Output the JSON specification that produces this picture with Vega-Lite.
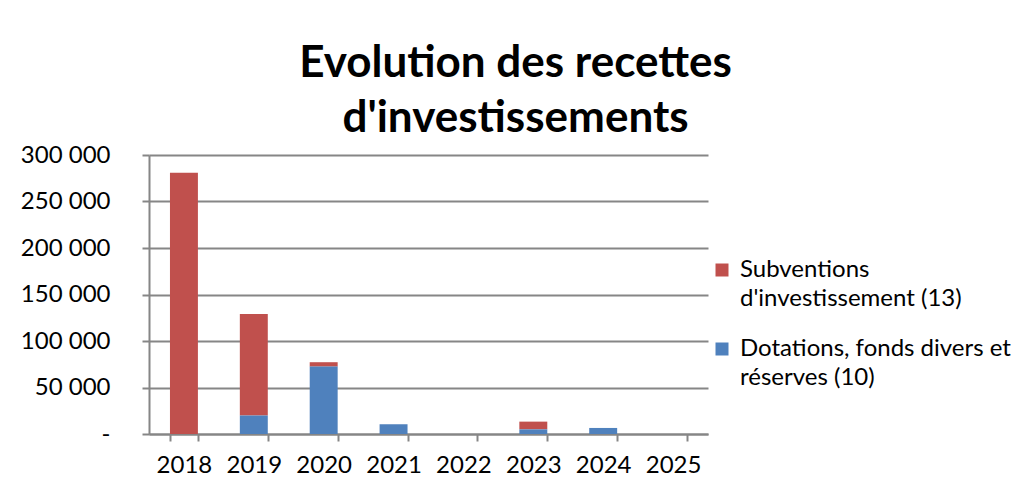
{
  "$schema": "https://vega.github.io/schema/vega-lite/v6.json",
  "autosize": "none",
  "width": 559,
  "height": 279,
  "padding": {"left": 149, "top": 155, "right": 308, "bottom": 64},
  "background": "white",
  "config": {
    "font": "Lato",
    "view": {"stroke": null},
    "style": {"guide-label": {"lineHeight": 29}},
    "locale": {"number": {"decimal": ",", "thousands": " ", "grouping": [3], "currency": ["", " €"]}}
  },
  "title": {
    "text": ["Evolution des recettes", "d'investissements"],
    "font": "Lato",
    "fontSize": 44,
    "fontWeight": "bold",
    "color": "#000000",
    "anchor": "middle",
    "dx": 87,
    "offset": 2,
    "lineHeight": 55
  },
  "data": {
    "values": [
      {"annee": "2018", "serie": "Subventions d'investissement (13)", "montant": 281000},
      {"annee": "2018", "serie": "Dotations, fonds divers et réserves (10)", "montant": 0},
      {"annee": "2019", "serie": "Subventions d'investissement (13)", "montant": 109000},
      {"annee": "2019", "serie": "Dotations, fonds divers et réserves (10)", "montant": 20000},
      {"annee": "2020", "serie": "Subventions d'investissement (13)", "montant": 4700},
      {"annee": "2020", "serie": "Dotations, fonds divers et réserves (10)", "montant": 72500},
      {"annee": "2021", "serie": "Subventions d'investissement (13)", "montant": 0},
      {"annee": "2021", "serie": "Dotations, fonds divers et réserves (10)", "montant": 10400},
      {"annee": "2022", "serie": "Subventions d'investissement (13)", "montant": 0},
      {"annee": "2022", "serie": "Dotations, fonds divers et réserves (10)", "montant": 0},
      {"annee": "2023", "serie": "Subventions d'investissement (13)", "montant": 8300},
      {"annee": "2023", "serie": "Dotations, fonds divers et réserves (10)", "montant": 5000},
      {"annee": "2024", "serie": "Subventions d'investissement (13)", "montant": 0},
      {"annee": "2024", "serie": "Dotations, fonds divers et réserves (10)", "montant": 6500},
      {"annee": "2025", "serie": "Subventions d'investissement (13)", "montant": 0},
      {"annee": "2025", "serie": "Dotations, fonds divers et réserves (10)", "montant": 0}
    ]
  },
  "mark": {"type": "bar"},
  "encoding": {
    "x": {
      "field": "annee",
      "type": "ordinal",
      "scale": {"paddingInner": 0.6, "paddingOuter": 0.3},
      "axis": {
        "title": null,
        "labelAngle": 0,
        "labelFontSize": 24,
        "labelColor": "#000000",
        "labelPadding": 12,
        "domainColor": "#868686",
        "domainWidth": 2,
        "tickColor": "#868686",
        "tickWidth": 2,
        "tickSize": 7,
        "tickBand": "extent",
        "grid": false
      }
    },
    "y": {
      "field": "montant",
      "type": "quantitative",
      "aggregate": "sum",
      "stack": "zero",
      "scale": {"domain": [0, 300000], "nice": false},
      "axis": {
        "title": null,
        "values": [0, 50000, 100000, 150000, 200000, 250000, 300000],
        "format": ",.0f",
        "labelExpr": "datum.value == 0 ? '-' : datum.label",
        "labelFontSize": 24,
        "labelColor": "#000000",
        "labelPadding": 32,
        "domainColor": "#868686",
        "domainWidth": 2,
        "tickColor": "#868686",
        "tickWidth": 2,
        "tickSize": 7,
        "gridColor": "#868686",
        "gridWidth": 2
      }
    },
    "color": {
      "field": "serie",
      "type": "nominal",
      "scale": {
        "domain": ["Subventions d'investissement (13)", "Dotations, fonds divers et réserves (10)"],
        "range": ["#C0504D", "#4F81BD"]
      },
      "legend": {
        "title": null,
        "orient": "none",
        "legendX": 561,
        "legendY": 103,
        "symbolType": "square",
        "symbolSize": 169,
        "symbolStrokeWidth": 0,
        "labelFontSize": 24,
        "labelColor": "#000000",
        "labelLimit": 0,
        "labelOffset": 6,
        "rowPadding": 26,
        "labelExpr": "substring(datum.label, 0, 4) == 'Subv' ? ['Subventions', \"d'investissement (13)\"] : ['Dotations, fonds divers et', 'réserves (10)']"
      }
    },
    "order": {"field": "serie", "sort": "ascending"}
  }
}
